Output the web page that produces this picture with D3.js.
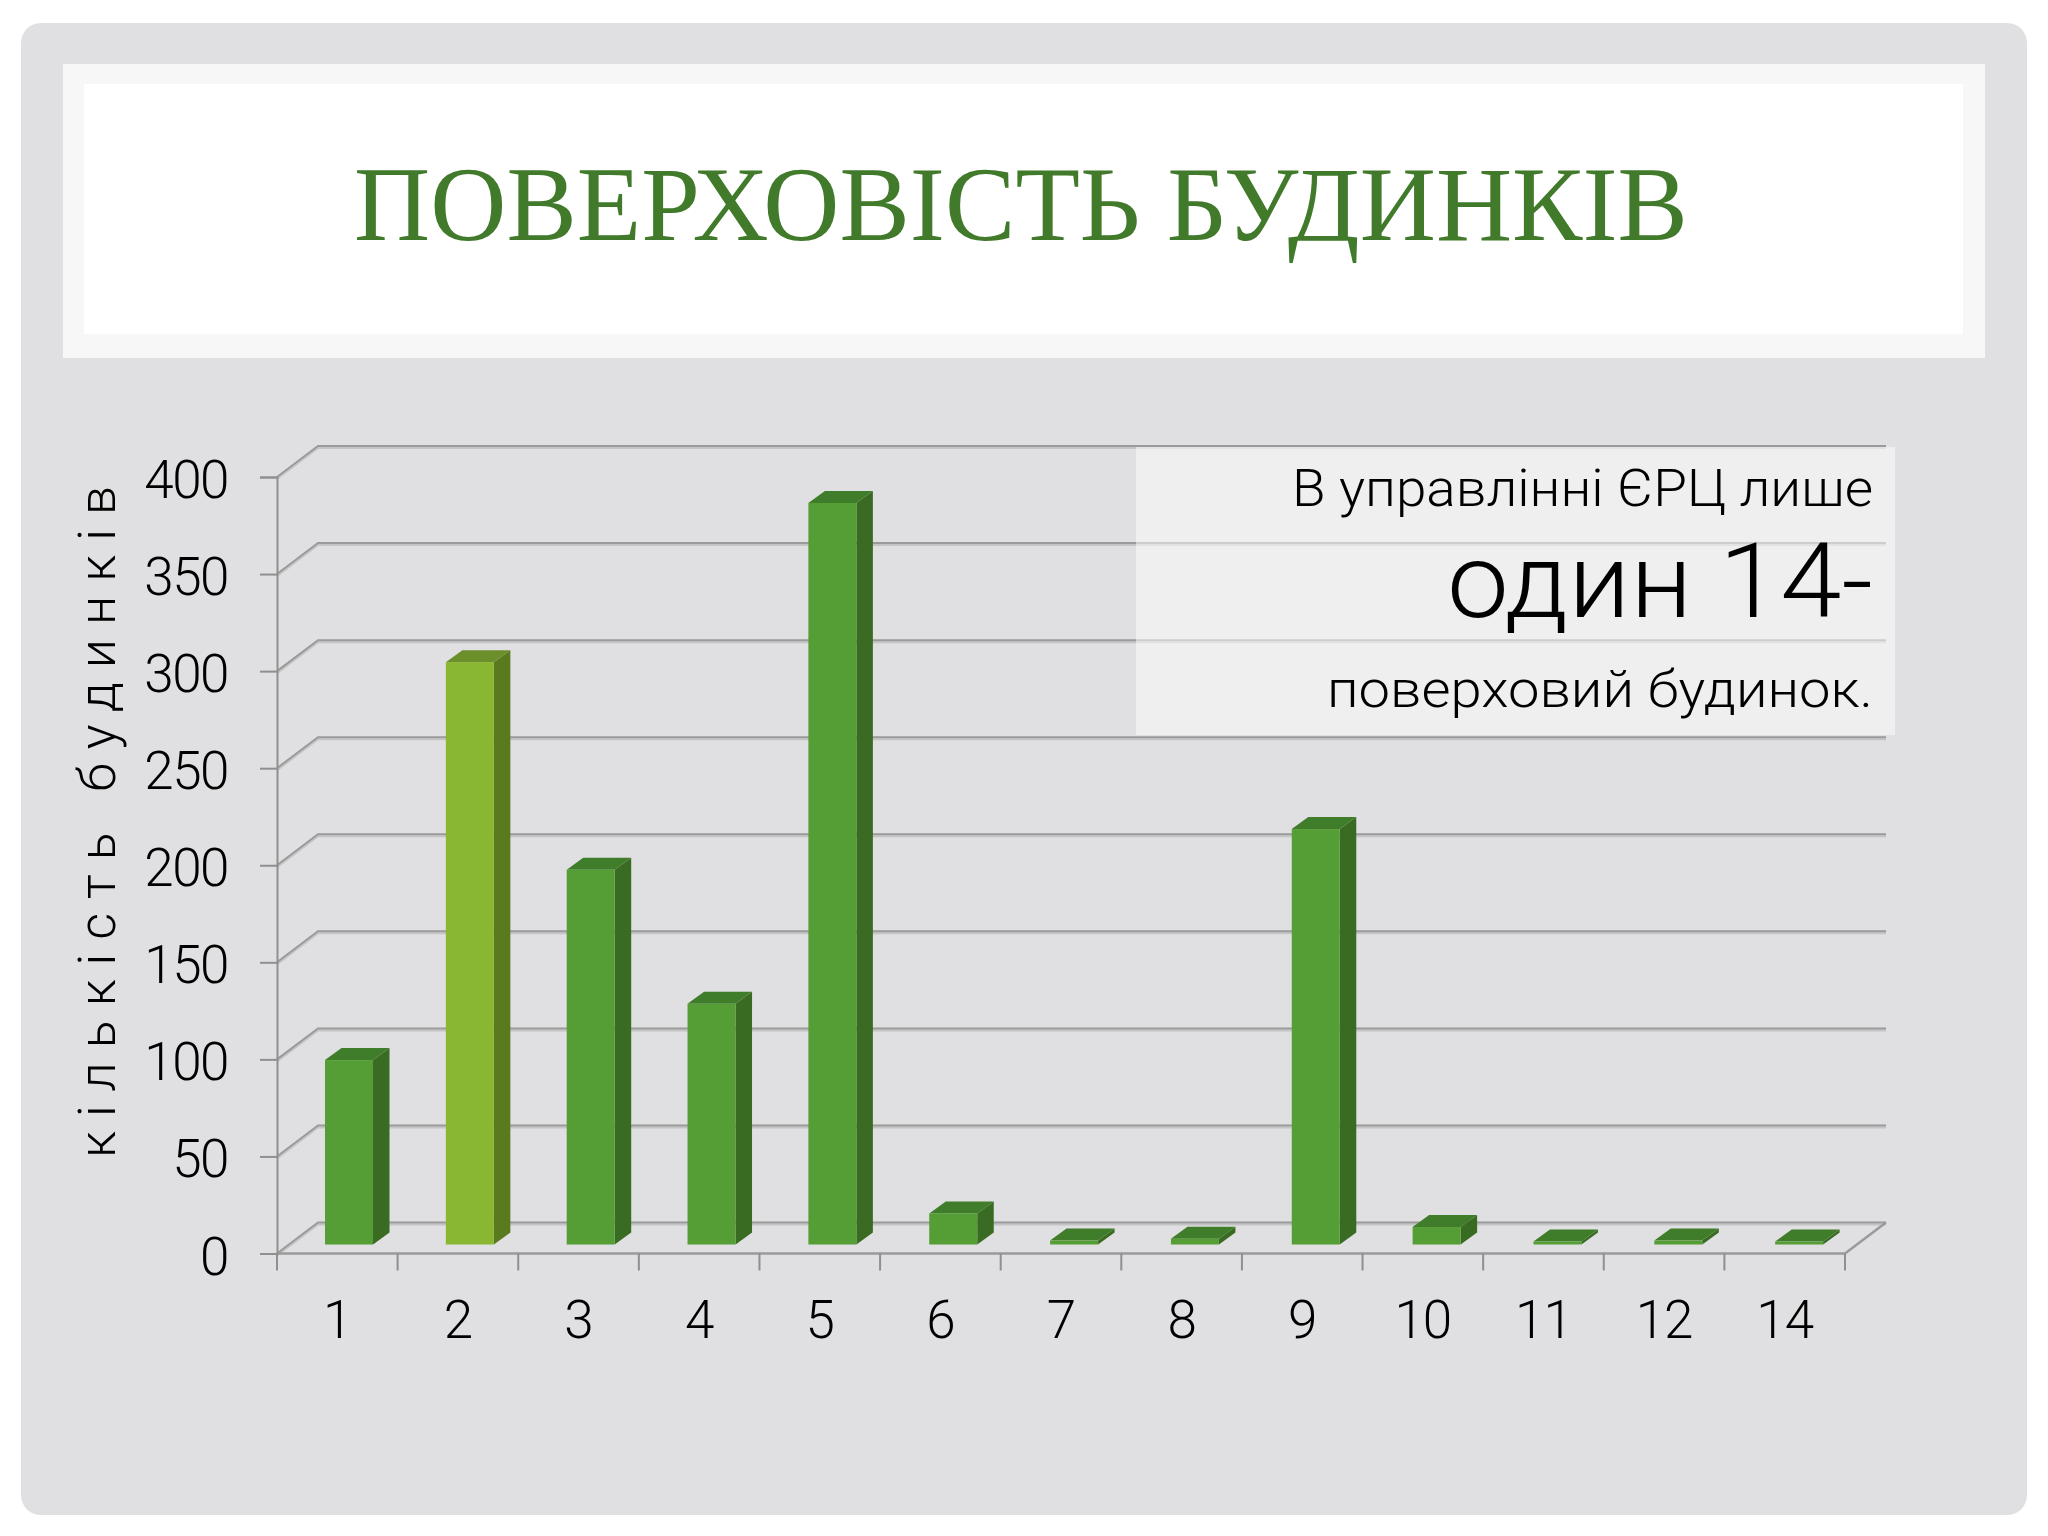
<!DOCTYPE html>
<html>
<head>
<meta charset="utf-8">
<title>Поверховість будинків</title>
<script src="https://cdn.jsdelivr.net/npm/d3@7"></script>
<style>
  html, body { margin: 0; padding: 0; background: #fff; }
  svg { display: block; }
  text { font-family: Roboto, "Open Sans", sans-serif; font-weight: 300; fill: #000; }
  .title { font-family: "Liberation Serif", serif; font-weight: 400; fill: #417a2a; }
</style>
</head>
<body>
<div id="vis"></div>
<script>
// values
const floors = ["1", "2", "3", "4", "5", "6", "7", "8", "9", "10", "11", "12", "14"];
const houses = [95, 300, 193, 124, 382, 16, 2, 3, 214, 9, 1.5, 2, 1.5];
const yTicks = [0, 50, 100, 150, 200, 250, 300, 350, 400];
const highlighted = ["2"];

const titleText = "ПОВЕРХОВІСТЬ БУДИНКІВ";
const yLabel = "кількість будинків";
const noteLines = [
  {text: "В управлінні ЄРЦ лише", size: 52, base: 506, len: 581},
  {text: "один 14-", size: 104, base: 617, len: 426},
  {text: "поверховий будинок.", size: 52, base: 707, len: 546}
];

const FRAME_WIDTH = 2048;
const FRAME_HEIGHT = 1536;
const LEFT = 277, RIGHT = 1845, TOP = 477, BOTTOM = 1253.5;
const BACK_DX = 41, BACK_DY = -31;   // depth of the 3d box
const BAR_SHIFT_Y = -9;              // bars stand inside the floor
const BAR_OFFSET = 48, BAR_WIDTH = 48, BAR_DX = 16.5, BAR_DY = -12;

const FRAME = d3.select("#vis").append("svg")
  .attr("width", FRAME_WIDTH)
  .attr("height", FRAME_HEIGHT);

const X_SCALE = d3.scaleBand().domain(floors).range([LEFT, RIGHT]);
// bars drift a little to the right of the axis bands in the original
const BAR_SCALE = d3.scaleBand().domain(floors).range([LEFT, RIGHT + 3]);
const Y_SCALE = d3.scaleLinear().domain([0, 400]).range([BOTTOM, TOP]);

// slide background
FRAME.append("rect").attr("x", 21).attr("y", 23).attr("width", 2006).attr("height", 1492)
  .attr("rx", 20).attr("fill", "#e0dfe1");
FRAME.append("rect").attr("x", 63).attr("y", 64).attr("width", 1922).attr("height", 294)
  .attr("fill", "#f7f7f7");
FRAME.append("rect").attr("x", 84).attr("y", 84).attr("width", 1879).attr("height", 250)
  .attr("fill", "#ffffff");
FRAME.append("text").attr("class", "title")
  .attr("x", 1021).attr("y", 240)
  .attr("text-anchor", "middle")
  .attr("font-size", 106)
  .attr("textLength", 1334)
  .attr("lengthAdjust", "spacingAndGlyphs")
  .text(titleText);

// gridlines: left wall diagonal + back wall line
const grid = FRAME.append("g").attr("fill", "none");
const gridPath = (d) => {
  const y = Y_SCALE(d);
  return d3.line()([[LEFT, y], [LEFT + BACK_DX, y + BACK_DY], [RIGHT + BACK_DX, y + BACK_DY]]);
};
grid.selectAll(".shade").data(yTicks).enter().append("path")
  .attr("d", gridPath)
  .attr("transform", "translate(0,2)")
  .attr("stroke", "#c4c4c5")
  .attr("stroke-width", 2);
grid.selectAll(".line").data(yTicks).enter().append("path")
  .attr("d", gridPath)
  .attr("stroke", "#9a9a9a")
  .attr("stroke-width", 2);

// floor outline on the right + front edge
grid.append("path")
  .attr("d", d3.line()([[RIGHT + BACK_DX, BOTTOM + BACK_DY], [RIGHT, BOTTOM], [LEFT, BOTTOM]]))
  .attr("stroke", "#9a9a9a")
  .attr("stroke-width", 2.5);

// note panel sits over the lines but lets them show through
FRAME.append("rect").attr("x", 1136).attr("y", 447).attr("width", 759).attr("height", 288)
  .attr("fill", "#ffffff").attr("fill-opacity", 0.5);

// axes
const yAxis = FRAME.append("g")
  .attr("transform", "translate(" + LEFT + ",0)")
  .call(d3.axisLeft(Y_SCALE).tickValues(yTicks).tickSize(17).tickPadding(32));
yAxis.selectAll("path, line").attr("stroke", "#8f8f8f").attr("stroke-width", 2);
yAxis.selectAll("text")
  .attr("font-size", 53)
  .attr("letter-spacing", -1.5)
  .attr("dy", 20.5)
  .attr("fill", "#000");

const xAxis = FRAME.append("g")
  .attr("transform", "translate(0," + BOTTOM + ")")
  .call(d3.axisBottom(X_SCALE).tickSize(0).tickPadding(0));
xAxis.select("path").remove();
xAxis.selectAll("text")
  .attr("font-size", 53)
  .attr("letter-spacing", -1)
  .attr("y", 84.5)
  .attr("dy", 0)
  .attr("fill", "#000");

// tick marks fall between the categories
const edges = floors.map((d) => X_SCALE(d)).concat([RIGHT]);
FRAME.selectAll(".xtick").data(edges).enter().append("line")
  .attr("x1", (d) => d).attr("x2", (d) => d)
  .attr("y1", BOTTOM).attr("y2", BOTTOM + 17)
  .attr("stroke", "#8f8f8f").attr("stroke-width", 2);

// bars, each one front + side + top
const bars = FRAME.selectAll(".bar")
  .data(floors.map((f, i) => ({floor: f, value: houses[i]})))
  .enter().append("g").attr("class", "bar");

const colour = (d, part) => {
  const on = highlighted.includes(d.floor);
  if (part === "front") return on ? "#8ab732" : "#559e36";
  if (part === "side") return on ? "#5a7a1f" : "#3a6b22";
  return on ? "#6b8f2a" : "#3f7d2a";
};
const corners = (d) => {
  const x0 = BAR_SCALE(d.floor) + BAR_OFFSET, x1 = x0 + BAR_WIDTH;
  const y0 = BOTTOM + BAR_SHIFT_Y, y1 = Y_SCALE(d.value) + BAR_SHIFT_Y;
  return {x0, x1, y0, y1};
};

bars.append("path")
  .attr("fill", (d) => colour(d, "side"))
  .attr("d", (d) => {
    const c = corners(d);
    return d3.line()([[c.x1, c.y0], [c.x1 + BAR_DX, c.y0 + BAR_DY], [c.x1 + BAR_DX, c.y1 + BAR_DY], [c.x1, c.y1]]) + "Z";
  });
bars.append("path")
  .attr("fill", (d) => colour(d, "top"))
  .attr("d", (d) => {
    const c = corners(d);
    return d3.line()([[c.x0, c.y1], [c.x0 + BAR_DX, c.y1 + BAR_DY], [c.x1 + BAR_DX, c.y1 + BAR_DY], [c.x1, c.y1]]) + "Z";
  });
bars.append("rect")
  .attr("fill", (d) => colour(d, "front"))
  .attr("x", (d) => corners(d).x0)
  .attr("y", (d) => corners(d).y1)
  .attr("width", BAR_WIDTH)
  .attr("height", (d) => corners(d).y0 - corners(d).y1);

// y title
FRAME.append("text")
  .attr("transform", "translate(115,1158) rotate(-90)")
  .attr("font-size", 52)
  .attr("textLength", 672)
  .attr("lengthAdjust", "spacing")
  .text(yLabel);

// note text
FRAME.selectAll(".note").data(noteLines).enter().append("text")
  .attr("x", 1873)
  .attr("y", (d) => d.base)
  .attr("text-anchor", "end")
  .attr("font-size", (d) => d.size)
  .attr("textLength", (d) => d.len)
  .attr("lengthAdjust", "spacingAndGlyphs")
  .text((d) => d.text);
</script>
</body>
</html>
